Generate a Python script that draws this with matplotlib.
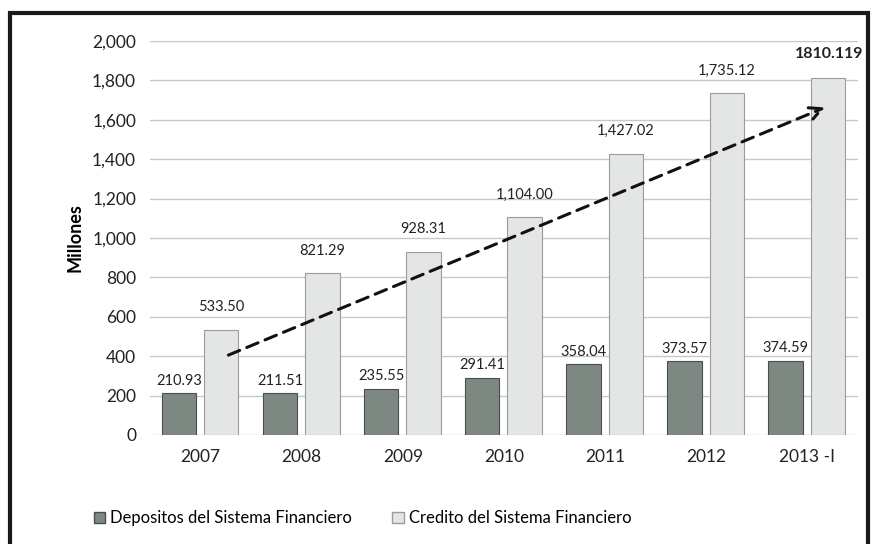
import matplotlib
matplotlib.use("Agg")
import matplotlib.pyplot as plt
from matplotlib.patches import Rectangle, Patch

plt.rcParams['font.family'] = ['Lato', 'DejaVu Sans']

years = ["2007", "2008", "2009", "2010", "2011", "2012", "2013 -I"]
depositos = [210.93, 211.51, 235.55, 291.41, 358.04, 373.57, 374.59]
credito = [533.50, 821.29, 928.31, 1104.00, 1427.02, 1735.12, 1810.119]
dep_labels = ["210.93", "211.51", "235.55", "291.41", "358.04", "373.57", "374.59"]
cred_labels = ["533.50", "821.29", "928.31", "1,104.00", "1,427.02", "1,735.12", "1810.119"]
yticks = [0, 200, 400, 600, 800, 1000, 1200, 1400, 1600, 1800, 2000]

fig = plt.figure(figsize=(8.74, 5.44), dpi=100)
ax = fig.add_axes([0.1716, 0.2004, 0.81, 0.7243])

x = list(range(len(years)))
w = 0.34
xd = [i - 0.215 for i in x]
xc = [i + 0.205 for i in x]

ax.bar(xd, depositos, width=w, color="#7e8882", edgecolor="#4a4f4c", linewidth=0.8, zorder=3)
ax.bar(xc, credito, width=w, color="#e4e6e5", edgecolor="#9a9c9b", linewidth=0.8, zorder=3)

for xi, v, t in zip(xd, depositos, dep_labels):
    ax.text(xi, v + 65, t, ha="center", va="center", fontsize=10.5, color="#222222")
for i, (xi, v, t) in enumerate(zip(xc, credito, cred_labels)):
    if i == len(credito) - 1:
        ax.text(xi + 0.01, v + 125, t, ha="center", va="center", fontsize=11.5,
                fontweight="bold", color="#222222")
    else:
        ax.text(xi, v + 115, t, ha="center", va="center", fontsize=10.5, color="#222222")

# trend arrow
ax.annotate("", xy=(6.2, 1668), xytext=(0.25, 400),
            arrowprops=dict(arrowstyle="->", lw=2.2, ls=(0, (4, 2.5)), color="#111111",
                            mutation_scale=22), zorder=5)

ax.set_xlim(-0.5, 6.5)
ax.set_ylim(0, 2000)
ax.set_yticks(yticks)
ax.set_yticklabels([f"{v:,}" for v in yticks], fontsize=12.5, color="#222222")
ax.set_xticks(x)
ax.set_xticklabels(years, fontsize=12.5, color="#222222")
ax.tick_params(length=0, pad=10)
ax.yaxis.grid(True, color="#c8c8c8", lw=1, zorder=0)
for s in ax.spines.values():
    s.set_visible(False)
ax.set_ylabel("Millones", fontsize=13, fontweight="bold", labelpad=6)

handles = [Patch(facecolor="#7e8882", edgecolor="#4a4f4c", label="Depositos del Sistema Financiero"),
           Patch(facecolor="#e4e6e5", edgecolor="#9a9c9b", label="Credito del Sistema Financiero")]
fig.legend(handles=handles, loc="center", bbox_to_anchor=(0.415, 0.047), ncol=2, frameon=False,
           fontsize=12, handlelength=0.7, handleheight=0.7, handletextpad=0.3, columnspacing=2.4)

# outer frame
fig.add_artist(Rectangle((10 / 874, -0.01), 858 / 874, 1 - 13 / 544 + 0.01, transform=fig.transFigure,
                         fill=False, lw=3, edgecolor="#1a1a1a"))

fig.savefig("out.png", dpi=100)
